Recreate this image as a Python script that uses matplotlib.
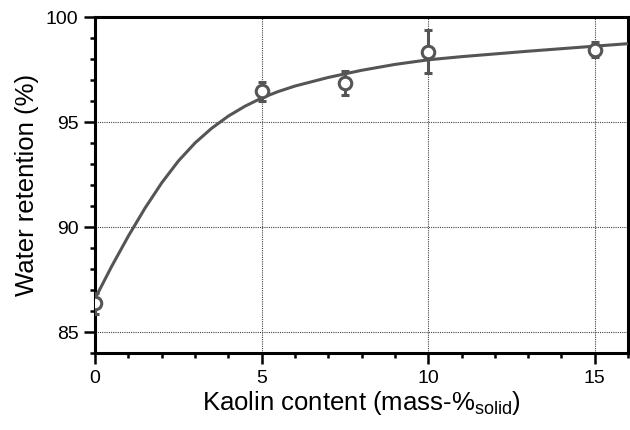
import matplotlib
matplotlib.use("Agg")
import matplotlib.pyplot as plt
from matplotlib.ticker import MultipleLocator

plt.rcParams['font.family'] = ['Liberation Sans', 'DejaVu Sans']
plt.rcParams['mathtext.default'] = 'regular'

# measured points
kaolin = [0, 5, 7.5, 10, 15]
retention = [86.38, 96.48, 96.86, 98.35, 98.46]
retention_err = [0.5, 0.45, 0.57, 1.03, 0.37]

# fitted curve
fit_x = [0, 0.5, 1, 1.5, 2, 2.5, 3, 3.5, 4, 4.5, 5, 5.5, 6, 7, 8, 9, 10, 11, 12, 13, 14, 15, 16]
fit_y = [86.60, 88.14, 89.58, 90.91, 92.11, 93.15, 94.01, 94.71, 95.29, 95.76, 96.15, 96.46,
         96.72, 97.13, 97.47, 97.75, 97.97, 98.12, 98.25, 98.38, 98.50, 98.62, 98.74]

col = '#555555'

fig = plt.figure(figsize=(6.3, 4.3), dpi=100)
ax = fig.add_axes([0.151, 0.179, 0.846, 0.781])

ax.plot(fit_x, fit_y, color=col, lw=2.2, zorder=3)
ax.errorbar(kaolin, retention, yerr=retention_err, fmt='o', color=col,
            mfc='white', mec=col, ms=9, mew=2.2, elinewidth=2.2,
            capsize=3, capthick=2.2, zorder=4)

ax.set_xlim(0, 16)
ax.set_ylim(84, 100)
ax.xaxis.set_major_locator(MultipleLocator(5))
ax.xaxis.set_minor_locator(MultipleLocator(1))
ax.yaxis.set_major_locator(MultipleLocator(5))
ax.yaxis.set_minor_locator(MultipleLocator(1))

ax.grid(True, which='major', color='#444444', lw=0.8, linestyle=(0, (1, 1)))
ax.set_axisbelow(True)

for s in ax.spines.values():
    s.set_linewidth(2.2)

ax.tick_params(which='major', direction='out', length=8, width=1.8, labelsize=14, pad=4)
ax.tick_params(which='minor', direction='out', length=3.5, width=1.8)

ax.set_xlabel('Kaolin content (mass-%$_{solid}$)', fontsize=18.5, labelpad=2)
ax.set_ylabel('Water retention (%)', fontsize=18.5, labelpad=5)

plt.savefig('out.png', dpi=100)
